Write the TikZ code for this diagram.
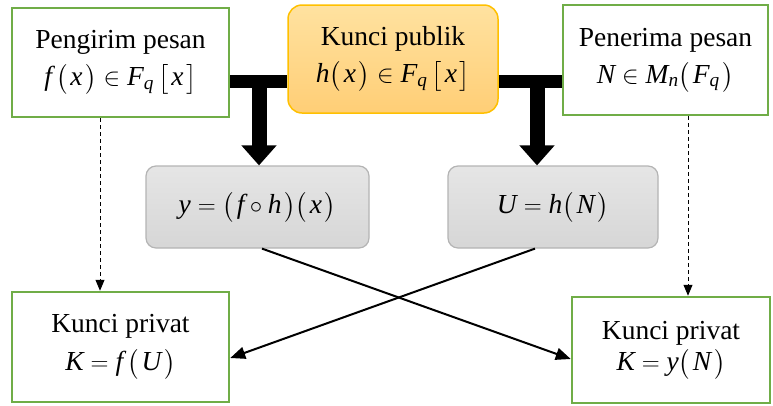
\documentclass[tikz,border=0pt]{standalone}
\usepackage{amsmath}
\usepackage{fontspec}
\newfontfamily\tnr{Liberation Serif}
\usetikzlibrary{arrows.meta,calc}
\definecolor{grn}{RGB}{112,173,71}
\definecolor{orgB}{RGB}{255,192,0}
\definecolor{orgT}{RGB}{255,226,160}
\definecolor{orgM}{RGB}{255,206,118}
\definecolor{grB}{RGB}{180,180,180}
\newcommand{\vv}[1]{\text{\tnr\itshape #1}}
\newcommand{\pl}{\bigl(\mkern2mu}
\newcommand{\pr}{\mkern2mu\bigr)}
\newcommand{\bkl}{\bigl[\mkern2mu}
\newcommand{\bkr}{\mkern2mu\bigr]}
\begin{document}
\begin{tikzpicture}[x=1pt,y=-1pt,
  font=\fontsize{27.5}{33}\selectfont\tnr,
  gbox/.style={draw=grn,line width=2.5pt,fill=white,inner sep=0pt,align=center},
  obox/.style={draw=orgB,line width=1.5pt,rounded corners=14pt,top color=orgT,bottom color=orgM,inner sep=0pt,align=center},
  graybox/.style={draw=grB,line width=1.2pt,rounded corners=10pt,top color=gray!20,bottom color=gray!32,inner sep=0pt,align=center},
  hbar/.style={line width=13pt,line cap=butt},
  vbar/.style={line width=15pt,line cap=butt,-{Triangle[width=34pt,length=20pt]}},
  dsh/.style={line width=0.9pt,dash pattern=on 4pt off 3pt,-{Triangle[width=9pt,length=11pt]}},
  xarr/.style={line width=2pt,-{Triangle[width=12pt,length=15pt]}}]
\useasboundingbox (0,0) rectangle (773,405);
\node[gbox,minimum width=217pt,minimum height=109pt] (send) at (120.5,62.5)
  {\tnr Pengirim pesan\\[4pt] $\vv{f}\,\pl\vv{x}\pr\in\vv{F}_{\vv{q}}\,\bkl\vv{x}\bkr$};
\node[obox,minimum width=210pt,minimum height=108pt] (pub) at (393,59)
  {\tnr Kunci publik\\[4pt] $\vv{h}\pl\vv{x}\pr\in\vv{F}_{\vv{q}}\,\bkl\vv{x}\bkr$};
\node[gbox,minimum width=205pt,minimum height=110pt] (recv) at (665.5,60)
  {\tnr Penerima pesan\\[4pt] $\vv{N}\in\vv{M}_{\vv{n}}\pl\vv{F}_{\vv{q}}\pr$};
\node[graybox,minimum width=223pt,minimum height=82pt] (g1) at (257.5,207)
  {$\vv{y}=\pl\vv{f}\circ\vv{h}\pr\pl\vv{x}\pr$};
\node[graybox,minimum width=210pt,minimum height=82pt] (g2) at (553,207)
  {$\vv{U}=\vv{h}\pl\vv{N}\pr$};
\node[gbox,minimum width=217pt,minimum height=110pt] (p1) at (120.5,347)
  {\tnr Kunci privat\\[5pt] $\vv{K}=\vv{f}\,\pl\vv{U}\pr$};
\node[gbox,minimum width=198pt,minimum height=106pt] (p2) at (671,350)
  {\tnr Kunci privat\\[-2pt] $\vv{K}=\vv{y}\pl\vv{N}\pr$};
% thick T connectors
\coordinate (j1) at (259,81.5);
\coordinate (j2) at (537,81.5);
\draw[hbar] (send.east |- j1) -- (pub.west |- j1);
\draw[hbar] (pub.east |- j2) -- (recv.west |- j2);
\draw[vbar] ($(j1)+(0,-6)$) -- (j1 |- g1.north);
\draw[vbar] ($(j2)+(0,-6)$) -- (j2 |- g2.north);
% dashed arrows
\coordinate (d1) at (100,0);
\coordinate (d2) at (688,0);
\draw[dsh] (send.south -| d1) -- (p1.north -| d1);
\draw[dsh] (recv.south -| d2) -- (p2.north -| d2);
% crossing arrows
\draw[xarr] ($(g1.south)+(4.5,0)$) -- ($(p2.west)+(0,9)$);
\draw[xarr] ($(g2.south)+(-18,0)$) -- ($(p1.east)+(0,11)$);
\end{tikzpicture}
\end{document}
